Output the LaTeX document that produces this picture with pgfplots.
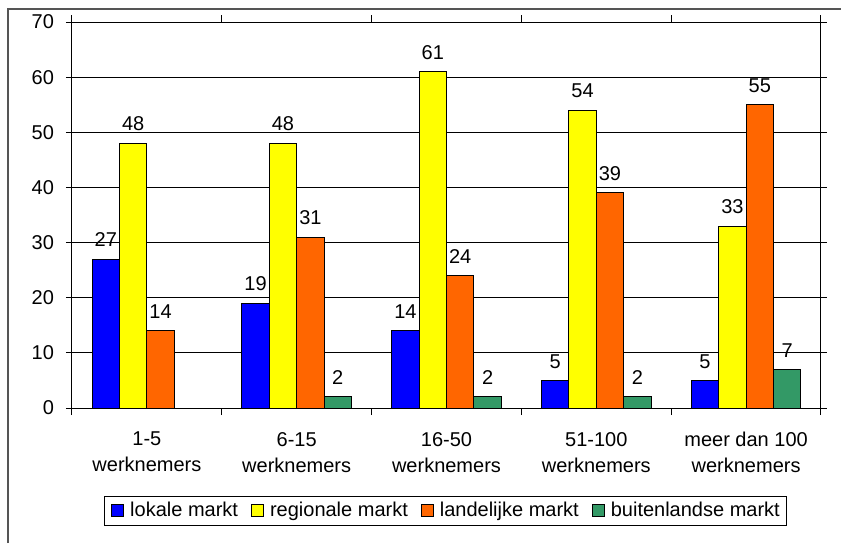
\documentclass[border=0pt]{standalone}
\usepackage{pgfplots}
\pgfplotsset{compat=1.18}
\usepackage{fontspec}
\setmainfont{Liberation Sans}
\definecolor{lokaal}{HTML}{0000FF}
\definecolor{regio}{HTML}{FFFF00}
\definecolor{land}{HTML}{FF6600}
\definecolor{buiten}{HTML}{339966}
\definecolor{rand}{HTML}{555555}
\newcommand{\chartfont}{\fontsize{10}{13}\selectfont}

\begin{document}
\chartfont
\begin{tikzpicture}
  % page = 841x543 px, 1 px = 0.5pt
  \path[use as bounding box] (0,0) rectangle (420.5pt,-271.5pt);
  \draw[rand, line width=0.6pt] (4pt,-271.5pt) -- (4pt,-4.5pt) -- (420.5pt,-4.5pt);
  \begin{axis}[
    scale only axis,
    width=374.5pt, height=193pt,
    at={(36pt,-204pt)}, anchor=south west,
    ybar=0pt, bar width=13.7pt,
    xmin=-0.5, xmax=4.5,
    ymin=0, ymax=70,
    ytick={0,10,...,70},
    xtick={0,...,4},
    xticklabels={{1-5\\werknemers},{6-15\\werknemers},{16-50\\werknemers},{51-100\\werknemers},{meer dan 100\\werknemers}},
    xticklabel style={align=center, yshift=-5.5pt},
    yticklabel style={xshift=-2.5pt},
    major x tick style={draw=none},
    minor xtick={-0.5,0.5,...,4.5},
    minor tick length=3.5pt,
    major tick length=3pt,
    tick align=outside,
    tick style={black, line width=0.5pt},
    axis line style={line width=0.5pt},
    ymajorgrids,
    grid style={black, line width=0.5pt},
    /pgf/number format/assume math mode=true,
    tick label style={font=\chartfont},
    nodes near coords,
    every node near coord/.append style={font=\chartfont, yshift=2.5pt, black},
    legend columns=4,
    legend style={at={(0.4987,-0.2668)}, anchor=center, draw=black, line width=0.5pt,
      font=\chartfont, inner xsep=3.5pt, inner ysep=3pt,
      nodes={inner sep=0pt},
      /tikz/every odd column/.append style={column sep=3pt},
      /tikz/every even column/.append style={column sep=6.5pt}},
    legend image code/.code={\draw[#1, draw=black, line width=0.5pt] (0pt,-3pt) rectangle (6pt,3pt);},
    every axis plot/.append style={draw=black, line width=0.5pt},
  ]
    \addplot[fill=lokaal] coordinates {(0,27) (1,19) (2,14) (3,5) (4,5)};
    \addplot[fill=regio] coordinates {(0,48) (1,48) (2,61) (3,54) (4,33)};
    \addplot[fill=land] coordinates {(0,14) (1,31) (2,24) (3,39) (4,55)};
    \addplot[fill=buiten] coordinates {(1,2) (2,2) (3,2) (4,7)};
    \legend{lokale markt, regionale markt, landelijke markt, buitenlandse markt}
  \end{axis}
\end{tikzpicture}
\end{document}
